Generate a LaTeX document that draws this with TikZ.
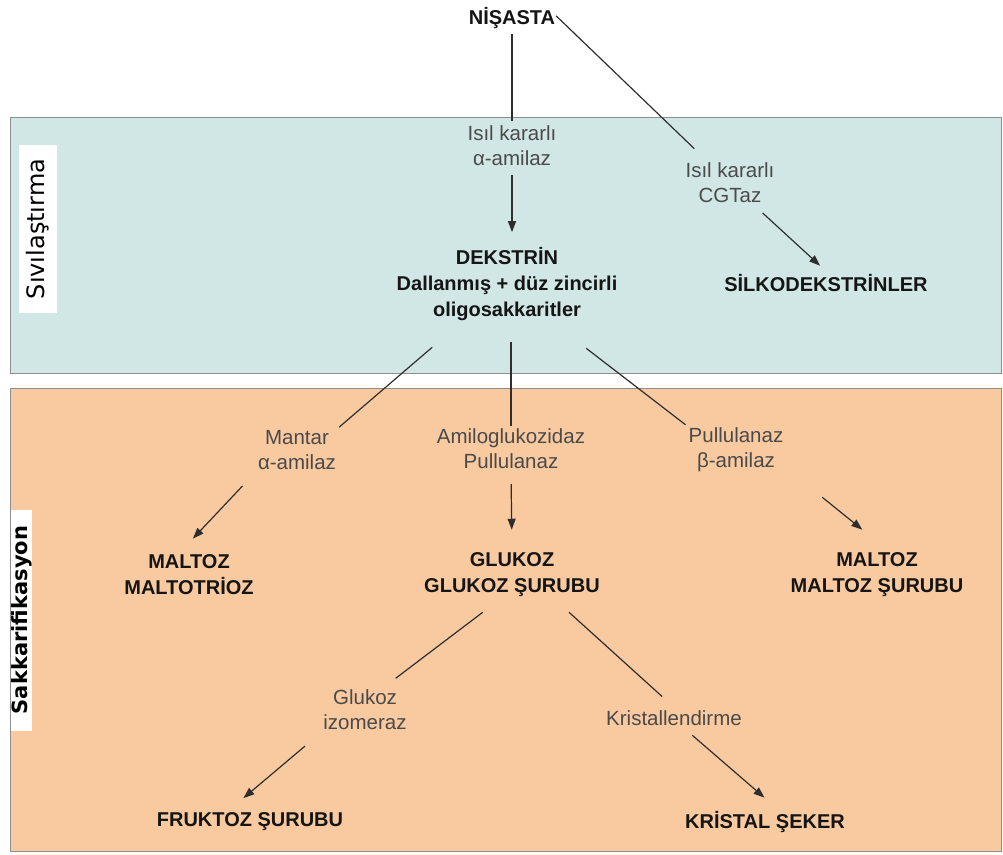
\documentclass[tikz,border=0pt]{standalone}
\usepackage{fontspec}
\setmainfont{Liberation Sans}
\newfontfamily\dejavu{DejaVu Sans}
\usetikzlibrary{arrows.meta}
\definecolor{blueband}{HTML}{D1E7E5}
\definecolor{orangeband}{HTML}{F9C9A0}
\definecolor{bandedge}{HTML}{8E8E8E}
\definecolor{enz}{HTML}{4A4A4A}
\definecolor{prod}{HTML}{151515}
\definecolor{conn}{HTML}{2E2E2E}
\begin{document}
\begin{tikzpicture}[x=1pt,y=-1pt,
  product/.style={font=\fontsize{20}{26}\selectfont\bfseries, text=prod, align=center, inner sep=3pt},
  enzyme/.style={font=\fontsize{20.5}{25}\selectfont, text=enz, align=center, inner sep=3pt},
  link/.style={draw=conn, line width=1.2pt},
  flow/.style={link, -{Triangle[length=11pt,width=8pt]}},
  band/.style={draw=bandedge, line width=1pt},
  sidelabel/.style={fill=white, rotate=90, inner sep=0pt, text=black}
]
\useasboundingbox (0,0) rectangle (1003,854);
% bands
\filldraw[band, fill=blueband] (10,117) rectangle (1001,373);
\filldraw[band, fill=orangeband] (10,388) rectangle (1001,851);
\node[sidelabel, minimum width=168pt, minimum height=38pt, font=\dejavu\fontsize{24}{28}\selectfont] (sv) at (38,229) {Sıvılaştırma};
\node[sidelabel, minimum width=221pt, minimum height=19pt, font=\dejavu\bfseries\fontsize{21}{24}\selectfont] (sk) at (21.5,620) {Sakkarifikasyon};
% nodes
\node[product] (nis) at (512,18) {NİŞASTA};
\node[enzyme] (l1) at (512,146) {Isıl kararlı\\α-amilaz};
\node[product] (dek) at (507,284) {DEKSTRİN\\Dallanmış + düz zincirli\\oligosakkaritler};
\node[enzyme] (l2) at (730,183) {Isıl kararlı\\CGTaz};
\node[product] (silko) at (826,283) {SİLKODEKSTRİNLER};
\node[enzyme] (l3) at (297,450) {Mantar\\α-amilaz};
\node[enzyme] (l4) at (511,449) {Amiloglukozidaz\\Pullulanaz};
\node[enzyme] (l5) at (736,450) {Pullulanaz\\β-amilaz};
\node[product] (malt1) at (189,575) {MALTOZ\\MALTOTRİOZ};
\node[product] (glu) at (512,575) {GLUKOZ\\GLUKOZ ŞURUBU};
\node[product] (malt2) at (877,575) {MALTOZ\\MALTOZ ŞURUBU};
\node[enzyme] (l6) at (365,710) {Glukoz\\izomeraz};
\node[enzyme] (l7) at (674,718) {Kristallendirme};
\node[product] (fru) at (250,822) {FRUKTOZ ŞURUBU};
\node[product] (kri) at (765,822) {KRİSTAL ŞEKER};
% connectors
\draw[link, shorten <=2pt, shorten >=2pt] (nis) -- (l1);
\draw[flow, shorten <=6pt, shorten >=12pt] (l1) -- (l1 |- dek.north);
\draw[link, shorten <=-3pt, shorten >=16pt] (nis.east) -- (l2);
\draw[flow, shorten <=10pt, shorten >=8pt] (l2) -- (silko.north);
\draw[link, shorten <=36pt] (dek.-140) -- (l3.north east);
\draw[link, shorten <=18pt] (l4 |- dek.south) -- (l4.north);
\draw[link, shorten <=40pt] (dek.-40) -- (l5.north west);
\draw[flow, shorten <=18pt, shorten >=18pt] (l3.south west) -- (malt1.110);
\draw[flow, shorten <=12pt, shorten >=20pt] (l4.south) -- (glu.north);
\draw[flow, shorten <=46pt, shorten >=32pt] (l5.-20) -- (malt2.68);
\draw[link, shorten <=20pt, shorten >=14pt] (glu.-118) -- (l6.50);
\draw[link, shorten <=18pt, shorten >=16pt] (glu.-30) -- (l7.north);
\draw[flow, shorten <=20pt, shorten >=18pt] (l6.south west) -- (fru.149);
\draw[flow, shorten <=10pt, shorten >=16pt] (l7.-45) -- (kri.50);
\end{tikzpicture}
\end{document}
